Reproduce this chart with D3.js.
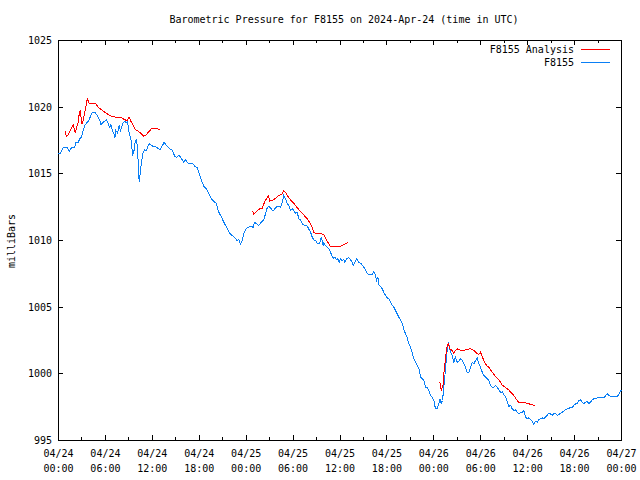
<!DOCTYPE html>
<html><head><meta charset="utf-8">
<script src="https://cdn.jsdelivr.net/npm/d3@7"></script>
<style>
body{margin:0;background:#fff}
text{font-family:"DejaVu Sans Mono","Liberation Mono",monospace;font-size:10px;fill:#000}
</style>
</head><body>
<svg id="chart" width="640" height="480"></svg>
<script>
const titleText = "Barometric Pressure for F8155 on 2024-Apr-24 (time in UTC)";
const yLabel = "milliBars";
const seriesNames = ["F8155 Analysis", "F8155"];
const seriesColors = ["#ff0000", "#0a7ff5"];
const startTime = "2024-04-24T00:00:00Z";
const endTime = "2024-04-27T00:00:00Z";
const yTicks = [995, 1000, 1005, 1010, 1015, 1020, 1025];

// F8155 observations: hours since start, pressure (mb)
const stationHours = [0,0.26,0.60,1.15,1.37,1.66,2.08,2.21,2.52,2.72,2.94,3.07,3.36,3.67,3.88,4.13,4.35,4.64,4.86,5.08,5.28,5.41,5.72,5.92,6.14,6.36,6.56,6.69,6.91,7.12,7.20,7.33,7.55,7.76,7.93,8.06,8.27,8.48,8.70,8.82,9.04,9.21,9.37,9.46,9.63,9.76,9.89,9.98,10.10,10.23,10.32,10.49,10.61,10.83,11.04,11.25,11.47,11.68,12.11,12.53,12.96,13.30,13.52,13.81,14.23,14.58,14.87,15.09,15.44,15.73,15.95,16.02,16.24,16.54,16.79,17.18,17.43,17.74,17.94,18.16,18.38,18.58,18.80,19.02,19.22,19.44,19.66,19.86,20.17,20.30,20.50,20.72,20.94,21.14,21.36,21.58,21.78,22.00,22.21,22.42,22.64,22.85,23.06,23.28,23.49,23.70,23.92,24.13,24.34,24.55,24.90,25.07,25.32,25.62,25.83,26.05,26.26,26.47,26.69,26.90,27.11,27.33,27.53,27.75,27.97,28.39,28.61,28.81,29.03,29.25,29.45,29.67,29.89,30.09,30.31,30.53,30.73,30.95,31.17,31.37,31.81,32.01,32.23,32.45,32.65,32.87,33.09,33.29,33.42,33.60,33.72,33.85,33.93,34.15,34.36,34.57,34.79,35.00,35.13,35.34,35.55,35.72,35.90,36.06,36.28,36.49,36.61,36.83,37.13,37.34,37.56,37.69,37.89,38.11,38.41,38.71,39.04,39.26,39.48,39.68,40.12,40.32,40.54,40.67,40.84,40.96,41.18,41.40,41.60,41.82,42.04,42.24,42.46,42.68,42.88,43.10,43.32,43.52,43.74,43.96,44.16,44.38,44.59,44.80,45.02,45.23,45.44,45.66,45.87,46.08,46.30,46.51,46.72,46.94,47.15,47.36,47.57,47.79,48.00,48.21,48.43,48.64,48.77,48.94,49.11,49.28,49.40,49.53,49.71,49.84,49.97,50.13,50.35,50.55,50.77,50.99,51.19,51.41,51.63,51.83,52.05,52.27,52.47,52.69,52.91,53.11,53.33,53.55,53.75,53.97,54.19,54.39,54.61,54.83,55.03,55.25,55.47,55.67,55.89,56.11,56.31,56.53,56.75,56.95,57.17,57.38,57.59,57.81,58.02,58.23,58.45,58.66,58.87,59.08,59.30,59.51,59.72,59.94,60.15,60.36,60.58,60.79,61.00,61.22,61.43,61.64,61.86,62.06,62.28,62.50,62.70,62.92,63.14,63.34,63.56,63.78,63.98,64.20,64.42,64.62,64.84,65.06,65.26,65.48,65.70,65.90,66.12,66.34,66.54,66.76,66.98,67.18,67.40,67.62,67.82,68.04,68.26,68.46,68.68,68.89,69.32,69.74,70.18,70.38,70.60,71.02,71.46,71.66,71.88,72.00];
const stationPressure = [1016.56,1016.55,1016.95,1016.95,1016.70,1016.95,1016.95,1017.37,1017.37,1017.63,1017.75,1018.12,1018.63,1018.87,1019.00,1019.38,1019.62,1019.62,1019.45,1019.25,1019.00,1018.70,1018.87,1018.95,1019.05,1018.75,1018.45,1018.70,1018.25,1017.95,1017.67,1018.25,1018.05,1018.63,1018.25,1018.45,1018.83,1018.93,1018.83,1018.95,1018.05,1017.75,1017.13,1016.38,1016.62,1017.25,1017.50,1017.63,1016.88,1015.38,1014.37,1015.25,1015.87,1016.62,1016.80,1016.75,1017.13,1017.25,1017.05,1017.00,1016.80,1017.13,1017.37,1017.13,1016.88,1016.75,1016.30,1016.25,1016.38,1016.13,1015.95,1015.87,1016.05,1015.83,1015.75,1015.75,1015.57,1015.45,1015.12,1014.75,1014.37,1014.05,1013.95,1013.75,1013.50,1013.25,1013.05,1012.93,1012.80,1012.50,1012.12,1011.88,1011.63,1011.37,1011.13,1010.88,1010.68,1010.45,1010.38,1010.30,1010.13,1010.00,1010.05,1009.75,1010.00,1010.50,1010.80,1010.95,1011.00,1011.05,1011.00,1011.37,1011.25,1011.13,1011.30,1011.45,1011.55,1012.00,1012.45,1012.55,1012.45,1012.25,1012.25,1012.45,1012.55,1012.50,1012.87,1013.38,1013.13,1012.75,1012.63,1012.25,1012.38,1012.25,1012.05,1012.12,1011.63,1011.54,1011.25,1011.16,1011.09,1010.84,1010.63,1010.25,1010.05,1010.00,1009.80,1009.75,1009.87,1010.20,1010.00,1009.63,1009.80,1009.63,1009.50,1009.38,1009.12,1008.80,1008.67,1008.75,1008.55,1008.63,1008.37,1008.63,1008.50,1008.55,1008.37,1008.63,1008.70,1008.55,1008.37,1008.13,1008.37,1008.63,1008.37,1008.25,1008.00,1007.80,1007.55,1007.43,1007.43,1007.70,1007.38,1007.00,1007.25,1006.70,1006.55,1006.38,1006.12,1005.88,1005.70,1005.63,1005.37,1005.13,1005.00,1004.75,1004.50,1004.25,1004.04,1003.78,1003.33,1003.00,1002.75,1002.25,1002.00,1001.62,1001.13,1000.87,1000.62,1000.45,999.75,999.63,999.50,999.00,998.95,998.75,998.38,998.25,998.00,997.38,997.38,997.75,998.13,997.80,998.00,999.00,999.75,1000.63,1001.75,1002.37,1002.13,1001.62,1001.38,1000.87,1001.25,1000.87,1000.95,1001.13,1001.00,1000.75,1000.50,1000.12,1000.12,1000.50,1000.87,1000.75,1001.00,1001.20,1000.75,1000.50,1000.12,999.88,999.75,999.63,999.50,999.13,999.00,999.00,999.13,999.00,998.80,998.62,998.64,998.45,998.30,997.89,997.55,997.63,997.38,997.25,997.30,997.12,997.00,997.08,997.12,997.25,996.75,996.63,996.70,996.55,996.45,996.20,996.45,996.37,996.55,996.63,996.70,996.63,996.75,996.88,997.05,997.00,996.88,997.00,997.05,996.88,996.95,997.05,997.12,997.20,997.30,997.38,997.38,997.50,997.50,997.63,997.75,997.80,998.00,998.05,997.87,997.75,997.87,997.95,997.75,997.87,998.05,998.13,998.13,998.20,998.20,998.20,998.50,998.38,998.30,998.30,998.30,998.45,998.70,998.80];

// F8155 Analysis: hours since start, pressure (mb); null marks a gap
const analysisHours = [0.81,1.02,1.24,1.37,1.66,1.88,2.01,2.14,2.30,2.52,2.65,2.81,2.94,3.07,3.29,3.49,3.71,3.93,4.22,4.77,5.08,5.50,5.92,6.36,6.78,7.42,8.06,8.48,8.79,9.04,9.21,9.55,9.85,10.19,10.61,10.91,11.16,11.47,11.89,12.32,12.96,
 18.0,
 24.85,24.98,25.32,25.74,26.05,26.35,26.60,26.82,27.02,27.33,27.75,28.17,28.61,28.81,29.03,29.25,29.67,30.09,30.53,30.95,31.37,31.81,32.23,32.45,32.65,32.87,33.29,33.60,33.93,34.15,34.44,34.79,35.21,36.06,36.49,37.05,
 42.0,
 48.77,48.94,49.11,49.20,49.28,49.40,49.53,49.71,49.84,50.04,50.35,50.55,50.77,50.99,51.19,51.63,52.05,52.69,53.11,53.55,53.75,53.97,54.19,54.39,54.74,55.03,55.47,55.89,56.31,56.75,57.17,57.59,57.81,58.23,58.66,58.87,59.30,59.72,60.15,60.58,61.00];
const analysisPressure = [1018.25,1017.80,1017.95,1018.12,1018.45,1018.68,1018.38,1018.05,1018.45,1018.87,1019.50,1019.80,1018.75,1018.80,1019.38,1020.00,1020.70,1020.25,1020.25,1020.25,1020.00,1019.80,1019.62,1019.45,1019.30,1019.25,1019.20,1019.05,1019.00,1019.25,1019.00,1018.63,1018.30,1018.20,1018.00,1017.82,1017.88,1018.12,1018.38,1018.38,1018.35,
 null,
 1012.20,1011.95,1012.18,1012.38,1012.42,1012.87,1013.13,1013.38,1012.95,1013.00,1013.17,1013.38,1013.50,1013.75,1013.62,1013.38,1013.05,1012.80,1012.45,1012.18,1011.91,1011.63,1011.25,1011.00,1010.62,1010.55,1010.55,1010.50,1010.43,1010.20,1009.87,1009.55,1009.55,1009.55,1009.70,1009.87,
 null,
 999.37,998.75,999.00,999.25,1000.00,1000.63,1001.38,1002.13,1002.25,1001.88,1001.75,1001.55,1001.75,1001.88,1001.80,1001.75,1001.80,1001.88,1001.75,1001.50,1001.45,1001.62,1001.30,1001.00,1000.63,1000.50,1000.12,999.80,999.55,999.16,998.98,998.79,998.62,998.38,998.00,997.87,997.83,997.83,997.75,997.68,997.57];

const svg = d3.select("#chart");
const t0 = new Date(startTime), t1 = new Date(endTime);
const hourToDate = h => new Date(t0.getTime() + h * 3600000);

const x = d3.scaleUtc().domain([t0, t1]).range([58, 621]);
const y = d3.scaleLinear().domain([995, 1025]).range([440, 40]);

const majorX = d3.utcHour.every(6).range(t0, new Date(t1.getTime() + 1));
const minorX = d3.utcHour.every(3).range(t0, new Date(t1.getTime() + 1)).filter(d => d.getUTCHours() % 6 !== 0);

const fmtDay = d3.utcFormat("%m/%d"), fmtTime = d3.utcFormat("%H:%M");

// x axes (bottom with labels, top mirrored)
const gxb = svg.append("g").attr("transform", "translate(0,440)")
  .call(d3.axisBottom(x).tickValues(majorX).tickSize(-5).tickPadding(8).tickFormat(""));
gxb.select(".domain").remove();
gxb.selectAll(".tick").each(function(d) {
  const tx = d3.select(this).select("text");
  tx.text(null).attr("y", 0).attr("dy", null).attr("fill", "#000");
  tx.append("tspan").attr("x", 0).attr("y", 17).text(fmtDay(d));
  tx.append("tspan").attr("x", 0).attr("y", 32).text(fmtTime(d));
});
const gxbm = svg.append("g").attr("transform", "translate(0,440)")
  .call(d3.axisBottom(x).tickValues(minorX).tickSize(-3).tickFormat(""));
gxbm.select(".domain").remove();
const gxt = svg.append("g").attr("transform", "translate(0,40)")
  .call(d3.axisTop(x).tickValues(majorX).tickSize(-5).tickFormat(""));
gxt.select(".domain").remove();
const gxtm = svg.append("g").attr("transform", "translate(0,40)")
  .call(d3.axisTop(x).tickValues(minorX).tickSize(-3).tickFormat(""));
gxtm.select(".domain").remove();

// y axes
const gyl = svg.append("g").attr("transform", "translate(58,0)")
  .call(d3.axisLeft(y).tickValues(yTicks).tickSize(-5).tickPadding(6).tickFormat(d3.format("d")));
gyl.select(".domain").remove();
gyl.selectAll("text").attr("fill", "#000").attr("dy", "0.35em");
const gyr = svg.append("g").attr("transform", "translate(621,0)")
  .call(d3.axisRight(y).tickValues(yTicks).tickSize(-5).tickFormat(""));
gyr.select(".domain").remove();

svg.selectAll(".tick line").attr("stroke", "#000").attr("shape-rendering", "crispEdges");
svg.selectAll(".tick text").style("font-family", '"DejaVu Sans Mono","Liberation Mono",monospace').style("font-size", "10px");

// frame
svg.append("rect").attr("x", 58.5).attr("y", 40.5).attr("width", 563).attr("height", 400)
  .attr("fill", "none").attr("stroke", "#000").attr("shape-rendering", "crispEdges");

// series
const stationData = stationHours.map((h, i) => ({ t: hourToDate(h), p: stationPressure[i] }));
const analysisData = analysisHours.map((h, i) => ({ t: hourToDate(h), p: analysisPressure[i] }));
const line = d3.line().defined(d => d.p != null).x(d => x(d.t)).y(d => y(d.p));

const plot = svg.append("g").attr("transform", "translate(0.5,0.5)");
plot.append("path").datum(stationData).attr("d", line)
  .attr("fill", "none").attr("stroke", seriesColors[1]).attr("stroke-width", 1)
  .attr("shape-rendering", "crispEdges");
plot.append("path").datum(analysisData).attr("d", line)
  .attr("fill", "none").attr("stroke", seriesColors[0]).attr("stroke-width", 1)
  .attr("shape-rendering", "crispEdges");

// title & y label
svg.append("text").attr("x", 344).attr("y", 20).attr("text-anchor", "middle")
  .attr("dominant-baseline", "middle").text(titleText);
svg.append("text").attr("transform", "translate(12,241) rotate(-90)")
  .attr("text-anchor", "middle").attr("dominant-baseline", "middle").text(yLabel);

// legend
const legend = svg.append("g");
seriesNames.forEach((name, i) => {
  const ly = 50 + i * 13;
  legend.append("text").attr("x", 574).attr("y", ly).attr("text-anchor", "end")
    .attr("dominant-baseline", "middle").text(name);
  legend.append("line").attr("x1", 581).attr("x2", 610).attr("y1", ly - 0.5).attr("y2", ly - 0.5)
    .attr("stroke", seriesColors[i]).attr("stroke-width", 1).attr("shape-rendering", "crispEdges");
});
</script>
</body></html>
